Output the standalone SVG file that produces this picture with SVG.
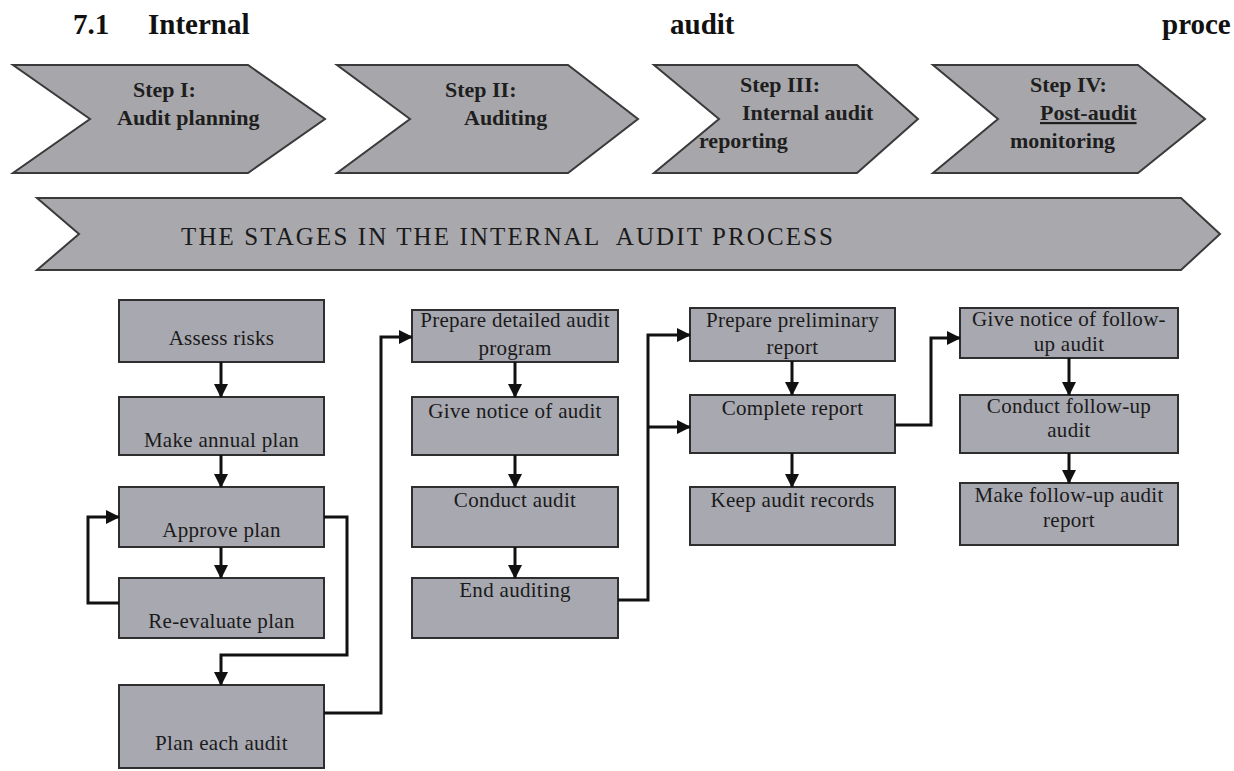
<svg xmlns="http://www.w3.org/2000/svg" width="1234" height="771" viewBox="0 0 1234 771">
<style>
.title{font-family:"Liberation Serif","Times New Roman",serif;font-weight:bold;font-size:29px;fill:#111}
.chev{fill:#a7a7ab;stroke:#3a3a3a;stroke-width:2;stroke-linejoin:miter}
.ct{font-family:"Liberation Serif","Times New Roman",serif;font-weight:bold;font-size:22px;fill:#1e1e1e}
.band{fill:#a9a9ad;stroke:#3a3a3a;stroke-width:2}
.bt{font-family:"Liberation Serif","Times New Roman",serif;font-size:25px;fill:#1a1a1a;white-space:pre}
.box{fill:#a8a8b0;stroke:#2e2e2e;stroke-width:2}
.t{font-family:"Liberation Serif","Times New Roman",serif;font-size:21px;letter-spacing:0.3px;fill:#1a1a1a;text-anchor:middle}
.c{fill:none;stroke:#111;stroke-width:3}
</style>
<defs>
<marker id="ah" markerUnits="userSpaceOnUse" markerWidth="14" markerHeight="14" refX="13" refY="7" orient="auto">
<path d="M0,0 L14,7 L0,14 z" fill="#111"/>
</marker>
</defs>
<rect width="1234" height="771" fill="#fff"/>
<g id="title">
<text class="title" x="73" y="34">7.1</text>
<text class="title" x="148" y="34">Internal</text>
<text class="title" x="670" y="34">audit</text>
<text class="title" x="1162" y="34">proce</text>
</g>
<g id="step1">
<polygon class="chev" points="13,65 248,65 325,119 248,173 13,173 90,119"/>
<text class="ct" x="133" y="97">Step I:</text>
<text class="ct" x="117" y="125">Audit planning</text>
</g>
<g id="step2">
<polygon class="chev" points="337,65 568,65 638,119 568,173 337,173 410,119"/>
<text class="ct" x="445" y="97">Step II:</text>
<text class="ct" x="464" y="125">Auditing</text>
</g>
<g id="step3">
<polygon class="chev" points="654,65 857,65 918,119 857,173 654,173 719,119"/>
<text class="ct" x="740" y="92">Step III:</text>
<text class="ct" x="742" y="120">Internal audit</text>
<text class="ct" x="699" y="148">reporting</text>
</g>
<g id="step4">
<polygon class="chev" points="933,65 1138,65 1205,119 1138,173 933,173 998,119"/>
<text class="ct" x="1030" y="92">Step IV:</text>
<text class="ct" x="1040" y="120" text-decoration="underline">Post-audit</text>
<text class="ct" x="1010" y="148">monitoring</text>
</g>
<g id="stages">
<polygon class="band" points="37,198 1181,198 1220,234 1181,270 37,270 79,234"/>
<text class="bt" x="181" y="245" textLength="652" lengthAdjust="spacing">THE STAGES IN THE INTERNAL  AUDIT PROCESS</text>
</g>
<g id="assess"><rect class="box" x="119" y="300" width="205" height="62"/><text class="t" x="221.5" y="345">Assess risks</text></g>
<g id="annual"><rect class="box" x="119" y="397" width="205" height="58"/><text class="t" x="221.5" y="447">Make annual plan</text></g>
<g id="approve"><rect class="box" x="119" y="487" width="205" height="60"/><text class="t" x="221.5" y="537">Approve plan</text></g>
<g id="reevaluate"><rect class="box" x="119" y="578" width="205" height="60"/><text class="t" x="221.5" y="628">Re-evaluate plan</text></g>
<g id="planeach"><rect class="box" x="119" y="685" width="205" height="83"/><text class="t" x="221.5" y="750">Plan each audit</text></g>
<g id="prepdetailed"><rect class="box" x="412" y="310" width="206" height="52"/><text class="t" x="515" y="327">Prepare detailed audit</text><text class="t" x="515" y="355">program</text></g>
<g id="notice"><rect class="box" x="412" y="397" width="206" height="58"/><text class="t" x="515" y="418">Give notice of audit</text></g>
<g id="conduct"><rect class="box" x="412" y="487" width="206" height="60"/><text class="t" x="515" y="507">Conduct audit</text></g>
<g id="end"><rect class="box" x="412" y="578" width="206" height="60"/><text class="t" x="515" y="597">End auditing</text></g>
<g id="prelim"><rect class="box" x="690" y="308" width="205" height="53"/><text class="t" x="792.5" y="327">Prepare preliminary</text><text class="t" x="792.5" y="354">report</text></g>
<g id="complete"><rect class="box" x="690" y="395" width="205" height="58"/><text class="t" x="792.5" y="415">Complete report</text></g>
<g id="records"><rect class="box" x="690" y="487" width="205" height="58"/><text class="t" x="792.5" y="507">Keep audit records</text></g>
<g id="fnotice"><rect class="box" x="960" y="308" width="218" height="50"/><text class="t" x="1069" y="326">Give notice of follow-</text><text class="t" x="1069" y="351">up audit</text></g>
<g id="fconduct"><rect class="box" x="960" y="395" width="218" height="58"/><text class="t" x="1069" y="413">Conduct follow-up</text><text class="t" x="1069" y="437">audit</text></g>
<g id="freport"><rect class="box" x="960" y="483" width="218" height="62"/><text class="t" x="1069" y="502">Make follow-up audit</text><text class="t" x="1069" y="527">report</text></g>
<g id="connectors">
<path class="c" marker-end="url(#ah)" d="M221,362 V397"/>
<path class="c" marker-end="url(#ah)" d="M221,455 V487"/>
<path class="c" marker-end="url(#ah)" d="M221,547 V578"/>
<path class="c" marker-end="url(#ah)" d="M119,603 H88 V517 H119"/>
<path class="c" marker-end="url(#ah)" d="M324,517 H347 V655 H221 V685"/>
<path class="c" marker-end="url(#ah)" d="M324,713 H381 V337 H412"/>
<path class="c" marker-end="url(#ah)" d="M515,362 V397"/>
<path class="c" marker-end="url(#ah)" d="M515,455 V487"/>
<path class="c" marker-end="url(#ah)" d="M515,547 V578"/>
<path class="c" marker-end="url(#ah)" d="M618,600 H648 V335 H690"/>
<path class="c" marker-end="url(#ah)" d="M648,427 H690"/>
<path class="c" marker-end="url(#ah)" d="M792,361 V395"/>
<path class="c" marker-end="url(#ah)" d="M792,453 V487"/>
<path class="c" marker-end="url(#ah)" d="M895,425 H931 V338 H960"/>
<path class="c" marker-end="url(#ah)" d="M1069,358 V395"/>
<path class="c" marker-end="url(#ah)" d="M1069,453 V483"/>
</g>
</svg>
